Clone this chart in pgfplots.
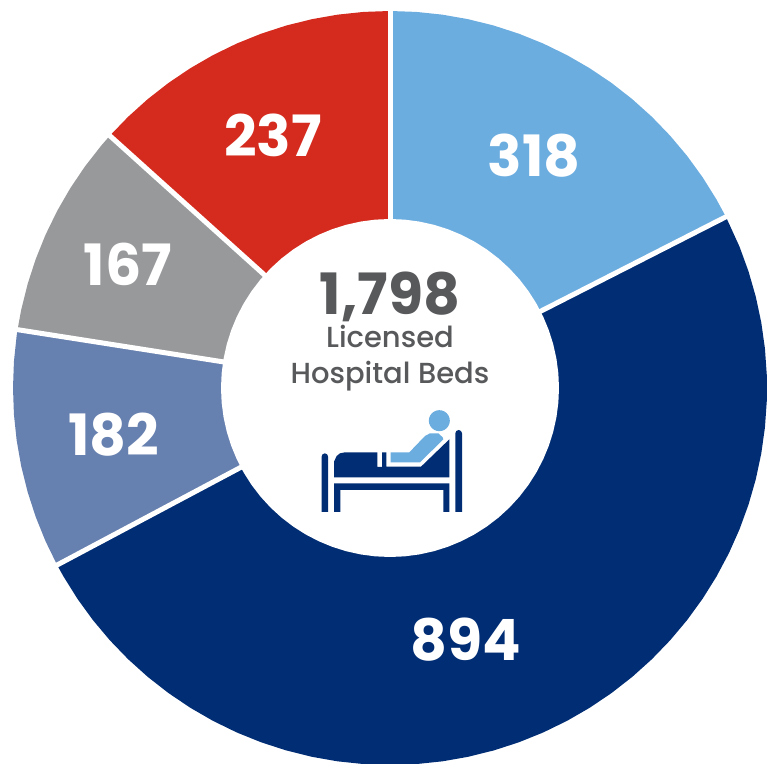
\documentclass[border=0pt]{standalone}
\usepackage{fontspec}
\setmainfont{Lato}
\newfontfamily\numfont{Poppins SemiBold}[BoldFont={Poppins Bold}]
\newfontfamily\capfont{Poppins Medium}
\usepackage{pgfplots}
\pgfplotsset{compat=1.18}

\definecolor{lightblue}{HTML}{6CADE0}
\definecolor{navy}{HTML}{002D74}
\definecolor{steel}{HTML}{6680AF}
\definecolor{midgray}{HTML}{98999B}
\definecolor{redseg}{HTML}{D52B1E}
\definecolor{textgray}{HTML}{58595B}

\newcommand{\bignum}[1]{\fontsize{57}{57}\numfont\bfseries #1}

\begin{document}
\begin{tikzpicture}
\begin{axis}[
  scale only axis,
  width=776pt,
  height=763pt,
  xmin=-390, xmax=386,
  ymin=-375, ymax=388,
  hide axis,
  clip=true,
]
% sectors: 318, 894, 182, 167, 237 of 1798, (angle, radius), clockwise from the top
\addplot[fill=lightblue, draw=none, data cs=polar] coordinates {
  (0,0) (90,377) (86,377) (82,377) (78,377) (74,377) (70,377) (66,377) (62,377) (58,377)
  (54,377) (50,377) (46,377) (42,377) (38,377) (34,377) (30,377) (27,377)};
\addplot[fill=navy, draw=none, data cs=polar] coordinates {
  (0,0) (27,377) (22,377) (18,377) (14,377) (10,377) (6,377) (2,377) (-2,377) (-6,377)
  (-10,377) (-14,377) (-18,377) (-22,377) (-26,377) (-30,377) (-34,377) (-38,377) (-42,377)
  (-46,377) (-50,377) (-54,377) (-58,377) (-62,377) (-66,377) (-70,377) (-74,377) (-78,377)
  (-82,377) (-86,377) (-90,377) (-94,377) (-98,377) (-102,377) (-106,377) (-110,377)
  (-114,377) (-118,377) (-122,377) (-126,377) (-130,377) (-134,377) (-138,377) (-142,377)
  (-146,377) (-150,377) (-152,377)};
\addplot[fill=steel, draw=none, data cs=polar] coordinates {
  (0,0) (-152,377) (-156,377) (-160,377) (-164,377) (-168,377) (-172,377) (-176,377)
  (-180,377) (-184,377) (-188,377) (-188.9,377)};
\addplot[fill=midgray, draw=none, data cs=polar] coordinates {
  (0,0) (-188.9,377) (-192,377) (-196,377) (-200,377) (-204,377) (-208,377) (-212,377)
  (-216,377) (-220,377) (-222,377)};
\addplot[fill=redseg, draw=none, data cs=polar] coordinates {
  (0,0) (-222,377) (-226,377) (-230,377) (-234,377) (-238,377) (-242,377) (-246,377)
  (-250,377) (-254,377) (-258,377) (-262,377) (-266,377) (-270,377)};

% white separators
\addplot[white, line width=5pt, data cs=polar] coordinates {(90,0) (90,385)};
\addplot[white, line width=5pt, data cs=polar] coordinates {(27,0) (27,385)};
\addplot[white, line width=5pt, data cs=polar] coordinates {(-152,0) (-152,385)};
\addplot[white, line width=5pt, data cs=polar] coordinates {(-188.9,0) (-188.9,385)};
\addplot[white, line width=5pt, data cs=polar] coordinates {(-222,0) (-222,385)};

% hole
\addplot[fill=white, draw=none, data cs=polar] coordinates {
  (0,169) (5,169) (10,169) (15,169) (20,169) (25,169) (30,169) (35,169) (40,169) (45,169)
  (50,169) (55,169) (60,169) (65,169) (70,169) (75,169) (80,169) (85,169) (90,169) (95,169)
  (100,169) (105,169) (110,169) (115,169) (120,169) (125,169) (130,169) (135,169) (140,169)
  (145,169) (150,169) (155,169) (160,169) (165,169) (170,169) (175,169) (180,169) (185,169)
  (190,169) (195,169) (200,169) (205,169) (210,169) (215,169) (220,169) (225,169) (230,169)
  (235,169) (240,169) (245,169) (250,169) (255,169) (260,169) (265,169) (270,169) (275,169)
  (280,169) (285,169) (290,169) (295,169) (300,169) (305,169) (310,169) (315,169) (320,169)
  (325,169) (330,169) (335,169) (340,169) (345,169) (350,169) (355,169)};

% bed icon
\addplot[fill=lightblue, draw=none] coordinates {
  (59.83,-32.67) (59.47,-29.95) (58.42,-27.42) (56.75,-25.25) (54.58,-23.58) (52.05,-22.53)
  (49.33,-22.17) (46.61,-22.53) (44.08,-23.58) (41.91,-25.25) (40.24,-27.42) (39.19,-29.95)
  (38.83,-32.67) (39.19,-35.39) (40.24,-37.92) (41.91,-40.09) (44.08,-41.76) (46.61,-42.81)
  (49.33,-43.17) (52.05,-42.81) (54.58,-41.76) (56.75,-40.09) (58.42,-37.92) (59.47,-35.39)};
\addplot[fill=lightblue, draw=none] coordinates {
  (0.67,-64.33) (19.33,-64.33) (35,-48) (40,-45.33) (48.33,-45.33) (52.67,-49.33)
  (53.33,-51.33) (30,-74.33) (0.67,-74.33)};
\addplot[fill=navy, draw=none] coordinates {
  (-56,-89.33) (-56,-73.67) (-53.33,-68) (-50,-65.33) (-45,-64.33) (-12.67,-64.33)
  (-12.67,-79) (-8,-79) (-8,-64.33) (-3.67,-64.33) (-3.67,-78.67) (31,-78.67)
  (59.33,-51.33) (59.33,-89.33)};
\addplot[fill=navy, draw=none] coordinates {
  (-56,-95.33) (59.33,-95.33) (59.33,-124) (53.33,-124) (53.33,-102) (-49.67,-102)
  (-49.67,-124) (-56,-124)};
\addplot[fill=navy, draw=none] coordinates {
  (-68.33,-124) (-68.33,-68.67) (-67.5,-66.33) (-65.17,-65.33) (-62.83,-66.33)
  (-62,-68.67) (-62,-124)};
\addplot[fill=navy, draw=none] coordinates {
  (65.33,-124) (65.33,-45.33) (66.33,-43) (68.67,-42) (71,-43) (72,-45.33) (72,-124)};

% labels
\node[white, anchor=base] at (axis cs:144,211) {\bignum{318}};
\node[white, anchor=base] at (axis cs:76,-272) {\bignum{894}};
\node[white, anchor=base] at (axis cs:-276,-68) {\bignum{182}};
\node[white, anchor=base] at (axis cs:-262,102) {\bignum{167}};
\node[white, anchor=base] at (axis cs:-117,231) {\bignum{237}};
\node[textgray, anchor=base] at (axis cs:0,73) {\bignum{1,798}};
\node[textgray, anchor=base] at (axis cs:0,40) {\fontsize{29}{29}\capfont Licensed};
\node[textgray, anchor=base] at (axis cs:0,4) {\fontsize{29}{29}\capfont Hospital Beds};
\end{axis}
\pgfresetboundingbox
\useasboundingbox (0,0) rectangle (776pt,763pt);
\end{tikzpicture}
\end{document}
